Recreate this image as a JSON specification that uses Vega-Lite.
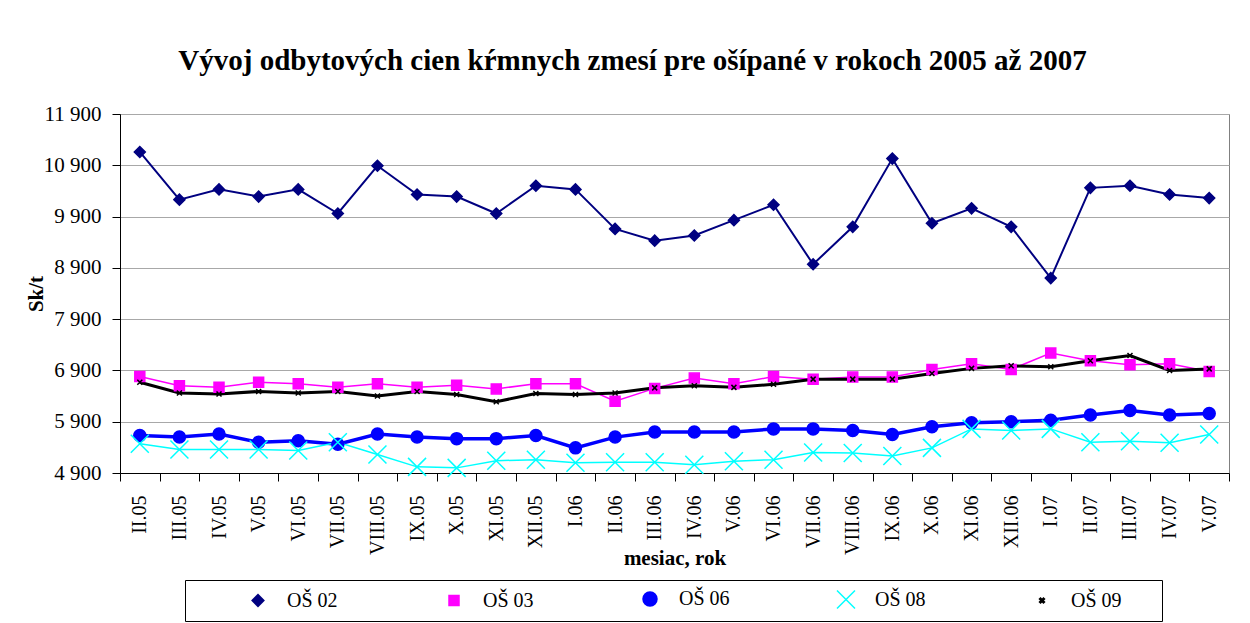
{
  "$schema": "https://vega.github.io/schema/vega-lite/v6.json",
  "width": 1109,
  "height": 359,
  "autosize": {"type": "none"},
  "padding": {"left": 120, "top": 114, "right": 21, "bottom": 150},
  "background": "white",
  "title": {
    "text": "Vývoj odbytových cien kŕmnych zmesí pre ošípané v rokoch 2005 až 2007",
    "font": "Liberation Serif",
    "fontSize": 29,
    "fontWeight": "bold",
    "color": "black",
    "anchor": "middle",
    "frame": "group",
    "dx": -42,
    "offset": 4,
    "baseline": "alphabetic"
  },
  "data": {
    "values": [
      {"month": "II.05", "OŠ 02": 11160, "OŠ 03": 6780, "OŠ 06": 5630, "OŠ 08": 5470, "OŠ 09": 6670},
      {"month": "III.05", "OŠ 02": 10230, "OŠ 03": 6600, "OŠ 06": 5600, "OŠ 08": 5360, "OŠ 09": 6460},
      {"month": "IV.05", "OŠ 02": 10430, "OŠ 03": 6570, "OŠ 06": 5660, "OŠ 08": 5360, "OŠ 09": 6440},
      {"month": "V.05", "OŠ 02": 10290, "OŠ 03": 6670, "OŠ 06": 5500, "OŠ 08": 5360, "OŠ 09": 6490},
      {"month": "VI.05", "OŠ 02": 10430, "OŠ 03": 6640, "OŠ 06": 5530, "OŠ 08": 5340, "OŠ 09": 6460},
      {"month": "VII.05", "OŠ 02": 9960, "OŠ 03": 6570, "OŠ 06": 5460, "OŠ 08": 5500, "OŠ 09": 6490},
      {"month": "VIII.05", "OŠ 02": 10890, "OŠ 03": 6640, "OŠ 06": 5660, "OŠ 08": 5260, "OŠ 09": 6400},
      {"month": "IX.05", "OŠ 02": 10330, "OŠ 03": 6570, "OŠ 06": 5600, "OŠ 08": 5020, "OŠ 09": 6490},
      {"month": "X.05", "OŠ 02": 10290, "OŠ 03": 6610, "OŠ 06": 5570, "OŠ 08": 5000, "OŠ 09": 6430},
      {"month": "XI.05", "OŠ 02": 9960, "OŠ 03": 6540, "OŠ 06": 5570, "OŠ 08": 5140, "OŠ 09": 6290},
      {"month": "XII.05", "OŠ 02": 10500, "OŠ 03": 6640, "OŠ 06": 5630, "OŠ 08": 5160, "OŠ 09": 6450},
      {"month": "I.06", "OŠ 02": 10430, "OŠ 03": 6640, "OŠ 06": 5390, "OŠ 08": 5100, "OŠ 09": 6430},
      {"month": "II.06", "OŠ 02": 9660, "OŠ 03": 6300, "OŠ 06": 5600, "OŠ 08": 5110, "OŠ 09": 6460},
      {"month": "III.06", "OŠ 02": 9430, "OŠ 03": 6550, "OŠ 06": 5700, "OŠ 08": 5110, "OŠ 09": 6560},
      {"month": "IV.06", "OŠ 02": 9530, "OŠ 03": 6750, "OŠ 06": 5700, "OŠ 08": 5060, "OŠ 09": 6600},
      {"month": "V.06", "OŠ 02": 9830, "OŠ 03": 6640, "OŠ 06": 5700, "OŠ 08": 5130, "OŠ 09": 6570},
      {"month": "VI.06", "OŠ 02": 10130, "OŠ 03": 6780, "OŠ 06": 5760, "OŠ 08": 5160, "OŠ 09": 6630},
      {"month": "VII.06", "OŠ 02": 8970, "OŠ 03": 6730, "OŠ 06": 5760, "OŠ 08": 5300, "OŠ 09": 6730},
      {"month": "VIII.06", "OŠ 02": 9700, "OŠ 03": 6770, "OŠ 06": 5730, "OŠ 08": 5290, "OŠ 09": 6730},
      {"month": "IX.06", "OŠ 02": 11030, "OŠ 03": 6770, "OŠ 06": 5650, "OŠ 08": 5230, "OŠ 09": 6730},
      {"month": "X.06", "OŠ 02": 9770, "OŠ 03": 6920, "OŠ 06": 5800, "OŠ 08": 5390, "OŠ 09": 6840},
      {"month": "XI.06", "OŠ 02": 10060, "OŠ 03": 7030, "OŠ 06": 5880, "OŠ 08": 5760, "OŠ 09": 6940},
      {"month": "XII.06", "OŠ 02": 9700, "OŠ 03": 6920, "OŠ 06": 5900, "OŠ 08": 5730, "OŠ 09": 6990},
      {"month": "I.07", "OŠ 02": 8700, "OŠ 03": 7240, "OŠ 06": 5930, "OŠ 08": 5760, "OŠ 09": 6970},
      {"month": "II.07", "OŠ 02": 10460, "OŠ 03": 7090, "OŠ 06": 6030, "OŠ 08": 5500, "OŠ 09": 7090},
      {"month": "III.07", "OŠ 02": 10500, "OŠ 03": 7010, "OŠ 06": 6120, "OŠ 08": 5520, "OŠ 09": 7190},
      {"month": "IV.07", "OŠ 02": 10330, "OŠ 03": 7030, "OŠ 06": 6030, "OŠ 08": 5490, "OŠ 09": 6900},
      {"month": "V.07", "OŠ 02": 10260, "OŠ 03": 6880, "OŠ 06": 6060, "OŠ 08": 5650, "OŠ 09": 6930}
    ]
  },
  "transform": [
    {"fold": ["OŠ 02", "OŠ 03", "OŠ 06", "OŠ 08", "OŠ 09"], "as": ["series", "value"]}
  ],
  "encoding": {
    "x": {
      "field": "month",
      "type": "nominal",
      "sort": ["II.05","III.05","IV.05","V.05","VI.05","VII.05","VIII.05","IX.05","X.05","XI.05","XII.05","I.06","II.06","III.06","IV.06","V.06","VI.06","VII.06","VIII.06","IX.06","X.06","XI.06","XII.06","I.07","II.07","III.07","IV.07","V.07"],
      "scale": {"type": "band", "paddingInner": 0, "paddingOuter": 0},
      "axis": {
        "title": "mesiac, rok",
        "titleFont": "Liberation Serif",
        "titleFontSize": 21,
        "titleFontWeight": "bold",
        "titleColor": "black",
        "titleBaseline": "alphabetic",
        "titleY": 91,
        "labelAngle": 270,
        "labelFont": "Liberation Serif",
        "labelFontSize": 20,
        "labelColor": "black",
        "labelPadding": 14,
        "tickBand": "extent",
        "tickSize": 8,
        "tickColor": "black",
        "domainColor": "black",
        "grid": false
      }
    },
    "y": {
      "field": "value",
      "type": "quantitative",
      "scale": {"domain": [4900, 11900], "nice": false, "zero": false},
      "axis": {
        "values": [4900, 5900, 6900, 7900, 8900, 9900, 10900, 11900],
        "labelExpr": "replace(format(datum.value, ','), ',', ' ')",
        "labelFont": "Liberation Serif",
        "labelFontSize": 21,
        "labelColor": "black",
        "labelPadding": 11,
        "tickSize": 8,
        "tickColor": "black",
        "domainColor": "black",
        "gridColor": "#a8a8a8",
        "gridWidth": 1,
        "title": "Sk/t",
        "titleFont": "Liberation Serif",
        "titleFontSize": 21,
        "titleFontWeight": "bold",
        "titleColor": "black",
        "titleAngle": 270,
        "titleAlign": "center",
        "titleBaseline": "middle",
        "titleX": -84,
        "titleY": 179.5
      }
    },
    "color": {
      "field": "series",
      "type": "nominal",
      "scale": {"domain": ["OŠ 02", "OŠ 03", "OŠ 06", "OŠ 08", "OŠ 09"], "range": ["#000080", "#FF00FF", "#0000FF", "#00FFFF", "#000000"]},
      "legend": {
        "orient": "none",
        "legendX": 65,
        "legendY": 466,
        "direction": "horizontal",
        "columns": 5,
        "title": "\u00a0",
        "titleOrient": "right",
        "titlePadding": 31,
        "titleFontSize": 20,
        "padding": 9,
        "strokeColor": "black",
        "symbolSize": 150,
        "symbolOffset": 54,
        "labelOffset": 19,
        "columnPadding": 52,
        "labelFont": "Liberation Serif",
        "labelFontSize": 20,
        "labelColor": "black"
      }
    }
  },
  "layer": [
    {
      "mark": {"type": "line"},
      "encoding": {
        "strokeWidth": {
          "field": "series",
          "type": "nominal",
          "scale": {"type": "ordinal", "domain": ["OŠ 02", "OŠ 03", "OŠ 06", "OŠ 08", "OŠ 09"], "range": [2, 1.5, 3.5, 1.5, 3]},
          "legend": null
        }
      }
    },
    {
      "mark": {"type": "point", "filled": true, "opacity": 1, "strokeWidth": 1.5},
      "encoding": {
        "shape": {
          "field": "series",
          "type": "nominal",
          "scale": {"domain": ["OŠ 02", "OŠ 03", "OŠ 06", "OŠ 08", "OŠ 09"], "range": ["diamond", "square", "circle", "M-1,-1L1,1M-1,1L1,-1", "M-1,-1L1,1M-1,1L1,-1"]},
          "legend": null
        },
        "size": {
          "field": "series",
          "type": "nominal",
          "scale": {"type": "ordinal", "domain": ["OŠ 02", "OŠ 03", "OŠ 06", "OŠ 08", "OŠ 09"], "range": [121, 100, 144, 324, 25]},
          "legend": null
        },
        "stroke": {
          "field": "series",
          "type": "nominal",
          "scale": {"domain": ["OŠ 02", "OŠ 03", "OŠ 06", "OŠ 08", "OŠ 09"], "range": ["#000080", "#FF00FF", "#0000FF", "#00FFFF", "#000000"]},
          "legend": null
        }
      }
    }
  ],
  "config": {
    "view": {"stroke": "#808080"},
    "font": "Liberation Serif"
  }
}
